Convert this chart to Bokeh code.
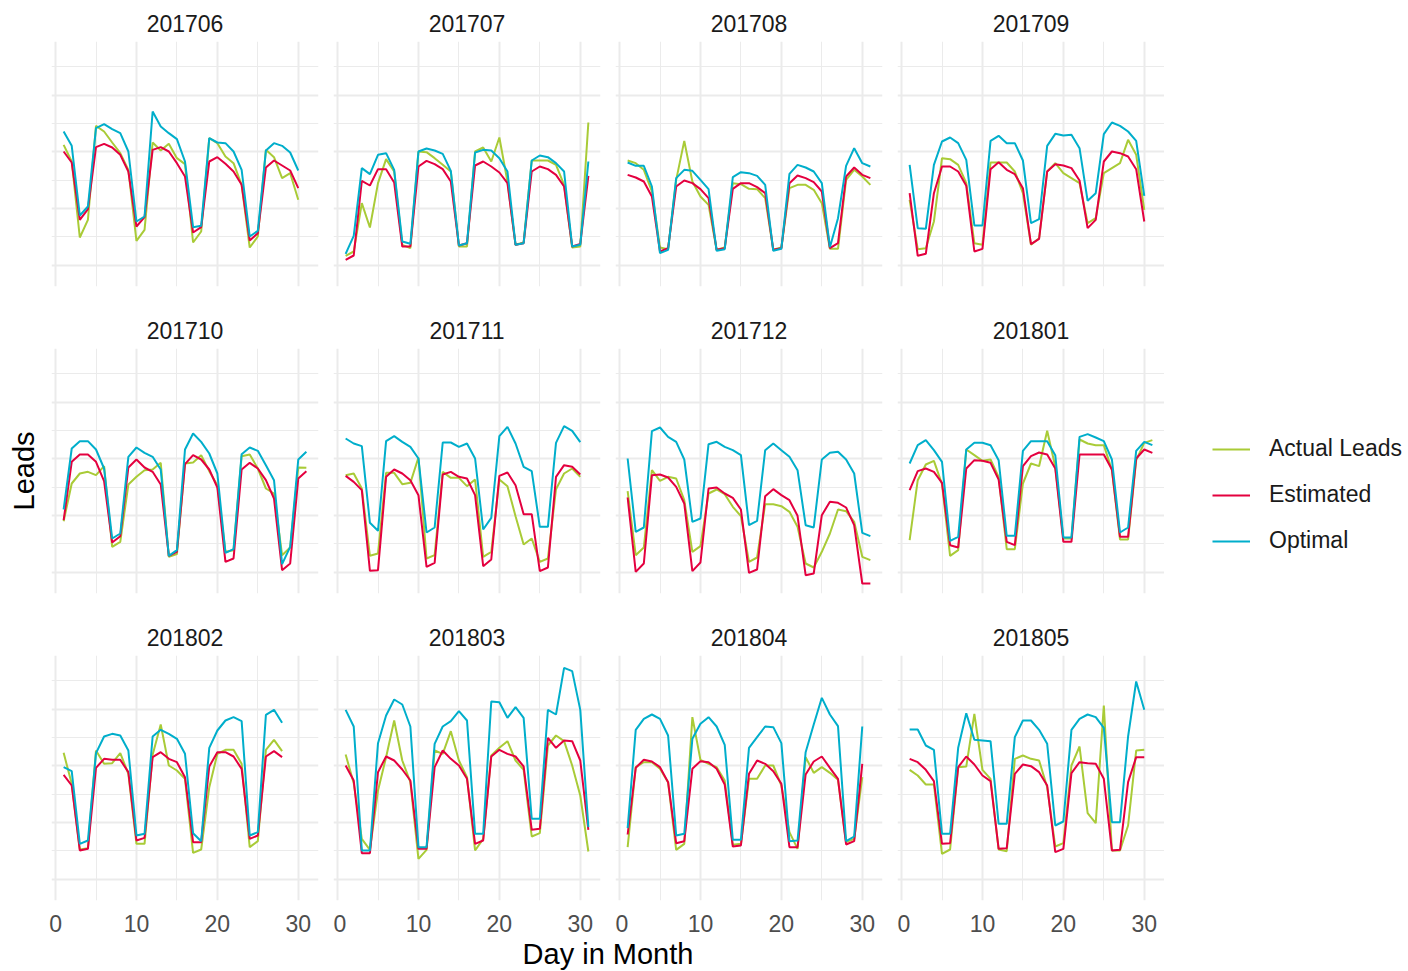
from bokeh.plotting import figure
from bokeh.layouts import row, column
from bokeh.models import FixedTicker, Range1d, Legend, LegendItem, Label
from bokeh.embed import file_html
from bokeh.resources import INLINE

months = ["201706", "201707", "201708", "201709", "201710", "201711",
          "201712", "201801", "201802", "201803", "201804", "201805"]
series_names = ["Actual Leads", "Estimated", "Optimal"]
series_colors = ["#A9CB37", "#E4003F", "#00AECB"]
x_ticks = [0, 10, 20, 30]
x_minor = [5, 15, 25]
y_major = [14, 184, 354, 524]
y_minor = [99, 269, 439, 609]

actual_201706 = [375,325,97,150,432,415,382,350,300,87,120,382,358,378,335,317,82,115,395,380,340,320,255,67,100,360,338,275,290,210]
estimated_201706 = [355,322,150,182,368,378,367,345,295,130,158,360,368,355,320,280,112,128,325,338,318,295,255,88,110,307,328,313,298,245]
optimal_201706 = [415,372,163,190,425,437,422,410,355,145,160,475,430,410,392,325,128,132,395,382,380,355,300,100,117,358,380,372,352,298]

actual_201707 = [42,55,200,127,260,332,295,75,65,355,353,335,315,295,70,70,355,367,325,397,265,75,82,328,328,328,315,255,67,70,442]
estimated_201707 = [30,43,267,253,302,302,262,70,70,310,327,317,302,265,73,80,313,325,310,292,260,75,80,295,310,302,285,250,70,78,282]
optimal_201707 = [48,102,305,287,345,350,300,85,78,355,364,358,348,297,73,80,352,360,358,335,295,75,80,328,343,338,320,295,70,75,325]

actual_201708 = [328,320,300,235,67,62,270,387,265,220,195,60,67,260,257,243,242,215,60,67,245,255,255,240,200,63,63,270,300,280,255]
estimated_201708 = [285,277,265,220,55,65,250,268,260,242,215,60,65,243,260,260,248,230,60,65,260,283,275,263,235,65,80,280,307,285,275]
optimal_201708 = [322,312,312,250,50,60,275,300,297,270,242,57,62,278,293,290,282,255,57,63,288,315,307,295,260,68,155,312,365,320,310]

actual_201709 = [210,62,65,145,335,332,315,260,80,75,322,322,322,295,230,75,95,295,320,290,275,260,140,155,290,305,320,390,345,180]
estimated_201709 = [230,42,48,230,310,310,295,252,55,63,302,323,300,287,245,77,93,295,317,313,305,268,125,150,325,355,350,340,302,145]
optimal_201709 = [315,125,123,315,385,397,380,330,133,133,387,402,380,380,328,140,152,372,408,403,405,365,207,230,407,442,432,415,387,222]

actual_201710 = [167,280,310,315,305,332,90,105,277,300,320,322,342,60,68,340,343,365,317,275,75,80,362,367,325,265,250,65,88,328,327]
estimated_201710 = [170,345,367,367,345,287,103,122,328,352,328,315,277,63,75,338,365,352,322,268,45,55,322,342,325,290,235,20,40,295,317]
optimal_201710 = [202,385,407,407,382,325,115,130,360,388,372,360,322,63,80,382,430,405,370,310,72,83,368,388,378,335,290,38,90,352,375]

actual_201711 = [305,310,265,63,70,312,312,278,282,358,55,65,315,297,297,272,292,60,75,292,272,182,97,115,45,55,263,310,325,300]
estimated_201711 = [303,285,260,18,20,300,322,310,290,245,30,42,307,315,300,295,245,32,52,303,313,275,188,188,17,28,300,335,330,307]
optimal_201711 = [415,400,392,162,138,407,422,405,390,355,133,148,403,403,390,400,355,142,177,422,450,400,330,317,150,150,402,452,438,404]

actual_201712 = [257,65,88,320,288,300,295,230,75,92,250,262,248,210,182,45,58,218,218,212,195,150,40,28,75,130,202,197,165,60,50]
estimated_201712 = [238,15,40,305,307,298,270,220,17,43,265,268,250,237,202,12,22,242,263,245,230,183,5,10,185,225,222,208,155,-20,-20]
optimal_201712 = [355,135,148,437,448,420,405,352,165,175,398,405,390,380,365,155,168,380,400,380,360,320,155,148,352,372,375,352,310,132,122]

actual_201801 = [110,290,337,348,278,63,80,382,365,348,352,300,83,83,280,340,332,438,330,115,115,412,400,395,395,320,112,112,350,402,410]
estimated_201801 = [260,317,325,315,282,95,88,325,350,348,342,292,105,95,332,362,373,367,325,105,105,367,367,367,367,322,120,120,355,382,372]
optimal_201801 = [340,395,410,380,345,108,120,382,402,402,395,350,123,123,378,407,407,407,365,118,118,420,428,418,407,352,133,148,378,405,395]

actual_201802 = [393,300,103,107,400,360,362,392,330,120,120,387,478,355,340,315,93,103,290,390,402,402,360,110,128,402,432,398]
estimated_201802 = [327,295,100,105,348,375,372,372,335,130,138,380,395,375,365,320,125,125,352,395,395,382,345,135,145,382,398,380]
optimal_201802 = [350,338,120,130,392,442,450,445,400,145,150,442,462,450,435,390,152,128,408,460,490,500,488,145,155,507,522,483]

actual_201803 = [388,302,135,102,280,380,490,370,305,75,102,400,390,458,370,320,100,135,385,408,428,370,342,142,152,415,445,428,355,265,97]
estimated_201803 = [355,310,92,92,335,382,370,343,310,105,105,350,400,375,355,315,120,130,382,402,390,382,352,162,165,438,408,430,428,370,162]
optimal_201803 = [522,472,100,100,422,505,553,538,472,110,110,420,472,488,518,490,150,150,547,545,498,530,498,195,195,522,508,648,638,522,170]

actual_201804 = [110,350,365,365,345,305,102,120,500,372,360,350,310,117,120,315,315,355,355,295,155,105,380,333,350,333,312,125,135,320]
estimated_201804 = [148,348,372,367,350,305,122,128,345,368,365,345,298,112,115,330,370,360,338,300,110,110,328,367,382,348,315,118,128,360]
optimal_201804 = [167,462,495,508,495,445,145,150,435,480,500,472,417,132,132,408,440,472,470,422,128,130,395,478,558,508,473,128,142,472]

actual_201805 = [342,325,298,298,90,103,350,352,510,342,315,103,98,375,385,375,370,290,112,122,355,412,212,182,535,100,100,175,400,402]
estimated_201805 = [375,365,342,308,120,122,350,382,358,325,308,105,107,330,358,353,335,295,95,105,332,365,362,360,315,100,102,305,380,380]
optimal_201805 = [463,463,415,402,150,150,408,512,432,430,428,180,180,440,490,490,462,420,175,187,462,495,508,500,468,185,185,442,607,522]

data = {
    "201706": (actual_201706, estimated_201706, optimal_201706),
    "201707": (actual_201707, estimated_201707, optimal_201707),
    "201708": (actual_201708, estimated_201708, optimal_201708),
    "201709": (actual_201709, estimated_201709, optimal_201709),
    "201710": (actual_201710, estimated_201710, optimal_201710),
    "201711": (actual_201711, estimated_201711, optimal_201711),
    "201712": (actual_201712, estimated_201712, optimal_201712),
    "201801": (actual_201801, estimated_201801, optimal_201801),
    "201802": (actual_201802, estimated_201802, optimal_201802),
    "201803": (actual_201803, estimated_201803, optimal_201803),
    "201804": (actual_201804, estimated_201804, optimal_201804),
    "201805": (actual_201805, estimated_201805, optimal_201805),
}

FONT = "Liberation Sans"
GRID = "#EBEBEB"

rows = []
current = []
for i, m in enumerate(months):
    r, c = divmod(i, 4)
    p = figure(frame_width=267, frame_height=245,
               x_range=Range1d(-0.5, 32.5), y_range=Range1d(-50, 685),
               output_backend="svg", toolbar_location=None, title=m,
               min_border_left=51 if c == 0 else 0,
               min_border_right=15 if c < 3 else 0,
               min_border_top=41,
               min_border_bottom=36 if r == 2 else 21)
    p.title.align = "center"
    p.title.text_font = FONT
    p.title.text_font_size = "23px"
    p.title.text_font_style = "normal"
    p.title.text_color = "#1A1A1A"
    p.title.standoff = 20
    p.outline_line_color = None
    p.background_fill_color = "white"

    p.xaxis.ticker = FixedTicker(ticks=x_ticks, minor_ticks=x_minor)
    p.yaxis.ticker = FixedTicker(ticks=[], minor_ticks=[])
    p.xgrid.ticker = FixedTicker(ticks=x_ticks, minor_ticks=x_minor)
    p.ygrid.ticker = FixedTicker(ticks=y_major, minor_ticks=y_minor)
    for g in (p.xgrid, p.ygrid):
        g.grid_line_color = GRID
        g.grid_line_width = 2
        g.minor_grid_line_color = GRID
        g.minor_grid_line_width = 1

    # x axis only on bottom row
    p.xaxis.visible = (r == 2)
    p.xaxis.axis_line_color = None
    p.xaxis.major_tick_line_color = None
    p.xaxis.minor_tick_line_color = None
    p.xaxis.major_label_text_font = FONT
    p.xaxis.major_label_text_font_size = "23px"
    p.xaxis.major_label_text_color = "#4D4D4D"
    p.xaxis.major_label_standoff = 8

    # y axis title only on the middle-left panel (no tick labels in the reference)
    p.yaxis.visible = (r == 1 and c == 0)
    p.yaxis.axis_line_color = None
    p.yaxis.major_tick_line_color = None
    p.yaxis.minor_tick_line_color = None
    p.yaxis.major_tick_out = 0
    p.yaxis.major_label_standoff = 0
    if r == 1 and c == 0:
        p.yaxis.axis_label = "Leads"
        p.yaxis.axis_label_text_font = FONT
        p.yaxis.axis_label_text_font_size = "29px"
        p.yaxis.axis_label_text_font_style = "normal"
        p.yaxis.axis_label_text_color = "black"
        p.yaxis.axis_label_standoff = 12

    vals = data[m]
    for series, color in zip(vals, series_colors):
        days = list(range(1, len(series) + 1))
        p.line(days, series, line_color=color, line_width=2)

    current.append(p)
    if c == 3:
        rows.append(row(*current))
        current = []

# x-axis title, centred under the panel grid
xt = figure(width=1164, height=35, x_range=Range1d(0, 1164), y_range=Range1d(0, 35),
            output_backend="svg", toolbar_location=None,
            min_border_left=0, min_border_right=0, min_border_top=0, min_border_bottom=0)
xt.axis.visible = False
xt.grid.visible = False
xt.outline_line_color = None
xt.add_layout(Label(x=607.5, y=17.5, text="Day in Month", text_align="center",
                    text_baseline="middle", text_font=FONT, text_font_size="29px",
                    text_color="black"))

# legend panel
NAN = float("nan")
lg = figure(width=244, height=971, x_range=Range1d(0, 1), y_range=Range1d(0, 1),
            output_backend="svg", toolbar_location=None,
            min_border_left=0, min_border_right=0, min_border_top=0, min_border_bottom=0)
lg.axis.visible = False
lg.grid.visible = False
lg.outline_line_color = None
items = []
for name, color in zip(series_names, series_colors):
    rr = lg.line(x=[NAN, NAN], y=[NAN, NAN], line_color=color, line_width=2)
    items.append(LegendItem(label=name, renderers=[rr]))
legend = Legend(items=items, location=(48, 417), glyph_width=38, glyph_height=20,
                label_standoff=19, spacing=19, padding=0, margin=0,
                border_line_color=None, background_fill_alpha=0,
                label_text_font=FONT, label_text_font_size="23px",
                label_text_color="#1A1A1A")
lg.add_layout(legend)

grid = column(*rows, xt)
layout = row(grid, lg)

open("out.html", "w").write(file_html(layout, INLINE))
